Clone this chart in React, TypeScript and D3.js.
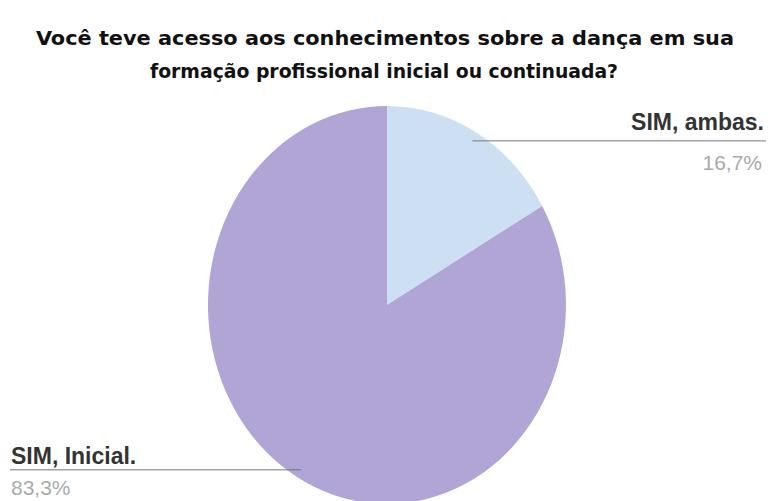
import React from "react";
import * as d3 from "d3";

const categories = ["SIM, ambas.", "SIM, Inicial."];
const values = [16.7, 83.3];
const valueLabels = ["16,7%", "83,3%"];
const colors = ["#cddff2", "#b1a5d6"];
const titleLines = [
  "Você teve acesso aos conhecimentos sobre a dança em sua",
  "formação profissional inicial ou continuada?",
];

const W = 768;
const H = 501;
const cx = 387;
const cy = 305;
const rx = 179;
const ry = 199;

export default function App() {
  const pie = d3.pie<number>().sort(null).value((d) => d);
  const arcs = pie(values);
  const arc = d3.arc<d3.PieArcDatum<number>>().innerRadius(0).outerRadius(1);

  // leader anchor points at the slice mid-angle (ellipse-scaled)
  const anchor = (a: d3.PieArcDatum<number>, r: number) => {
    const ang = (a.startAngle + a.endAngle) / 2;
    return [cx + Math.sin(ang) * rx * r, cy - Math.cos(ang) * ry * r];
  };
  const p0 = anchor(arcs[0], 0.953);
  const p1 = anchor(arcs[1], 0.957);

  return (
    <svg
      width={W}
      height={H}
      style={{ position: "absolute", left: 0, top: 0, background: "#fff" }}
    >
      <g
        fontFamily="'DejaVu Sans Condensed', 'DejaVu Sans', sans-serif"
        fontWeight="bold"
        fontSize={19}
        fill="#111"
        textAnchor="middle"
      >
        <text x={385} y={45} textLength={698} lengthAdjust="spacingAndGlyphs">
          {titleLines[0]}
        </text>
        <text x={384} y={78} textLength={468} lengthAdjust="spacingAndGlyphs">
          {titleLines[1]}
        </text>
      </g>
      <g transform={`translate(${cx},${cy}) scale(${rx},${ry})`}>
        {arcs.map((a, i) => (
          <path key={i} d={arc(a) || ""} fill={colors[i]} />
        ))}
      </g>
      {/* leader lines */}
      <line x1={p0[0]} y1={p0[1]} x2={766} y2={p0[1]} stroke="#777" strokeWidth={1} />
      <line x1={10} y1={p1[1]} x2={p1[0]} y2={p1[1]} stroke="#777" strokeWidth={1} />
      <g fontFamily="'Liberation Sans', Arial, sans-serif">
        <text x={764} y={130} textAnchor="end" fontSize={23} fontWeight="bold" fill="#333">
          {categories[0]}
        </text>
        <text x={762} y={170} textAnchor="end" fontSize={21} fill="#aaa">
          {valueLabels[0]}
        </text>
        <text x={11} y={464} fontSize={23} fontWeight="bold" fill="#333">
          {categories[1]}
        </text>
        <text x={11} y={495} fontSize={21} fill="#aaa">
          {valueLabels[1]}
        </text>
      </g>
    </svg>
  );
}
